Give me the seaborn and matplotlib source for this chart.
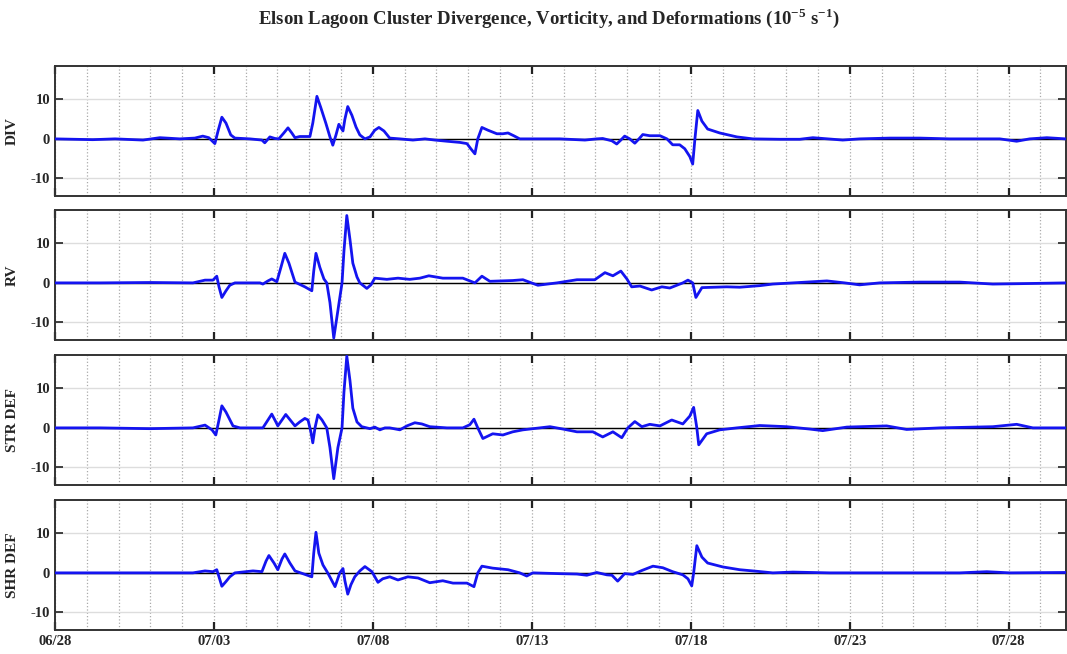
import pandas as pd
import numpy as np
import matplotlib
matplotlib.use("Agg")
import matplotlib.pyplot as plt
import matplotlib.dates as mdates
import seaborn as sns

# time in days after 06/28 00:00, values in 1e-5 s^-1
start = pd.Timestamp("2015-06-28")

div_days = [0, 1.19, 1.89, 2.77, 3.30, 3.93, 4.40, 4.65, 4.84, 5.03, 5.13, 5.25, 5.38, 5.53, 5.66,
            6.13, 6.51, 6.60, 6.76, 6.92, 7.04, 7.20, 7.33, 7.45, 7.55, 7.70, 8.02, 8.11, 8.24, 8.36,
            8.52, 8.65, 8.74, 8.84, 8.93, 9.06, 9.12, 9.21, 9.34, 9.47, 9.59, 9.75, 9.91, 10.06, 10.19,
            10.35, 10.53, 10.85, 11.26, 11.64, 11.95, 12.33, 12.74, 12.96, 13.08, 13.21, 13.30, 13.43,
            13.62, 13.90, 14.09, 14.25, 14.43, 14.62, 15.25, 15.88, 16.67, 17.04, 17.23, 17.52, 17.67,
            17.80, 17.92, 18.08, 18.24, 18.37, 18.49, 18.71, 19.03, 19.25, 19.43, 19.65, 19.81, 19.97,
            20.06, 20.13, 20.22, 20.35, 20.53, 20.91, 21.45, 21.95, 22.80, 23.43, 23.84, 24.78, 25.31,
            26.26, 27.20, 28.14, 29.72, 30.25, 30.66, 31.20, 31.79]
div_vals = [0, -0.2, 0, -0.3, 0.3, 0, 0.2, 0.7, 0.3, -1.2, 2, 5.5, 4, 1, 0.2,
            0, -0.3, -1.0, 0.5, 0.1, 0, 1.5, 2.8, 1.5, 0.3, 0.6, 0.6, 4, 10.8, 8,
            4, 0.5, -1.6, 1, 3.7, 2, 5, 8.2, 6, 3, 1, 0, 0.5, 2.2, 2.9,
            2, 0.2, 0, -0.3, 0, -0.3, -0.6, -0.9, -1.2, -2.5, -3.8, 0, 2.9,
            2.2, 1.3, 1.3, 1.5, 0.8, 0, 0, 0, -0.3, 0, 0.1, -0.5, -1.3,
            -0.3, 0.7, 0, -1.1, 0, 1.1, 0.8, 0.8, 0, -1.5, -1.5, -2.5, -4.5,
            -6.4, 0, 7.2, 4.5, 2.5, 1.5, 0.5, 0, -0.1, -0.1, 0.3, -0.3, 0,
            0.2, 0.2, 0, 0, -0.6, 0, 0.3, 0]

rv_days = [0, 1.42, 2.99, 4.34, 4.72, 4.97, 5.09, 5.16, 5.25, 5.38, 5.50, 5.66, 6.45, 6.54, 6.70,
           6.82, 6.98, 7.11, 7.23, 7.36, 7.55, 7.86, 8.08, 8.14, 8.21, 8.33, 8.46, 8.55, 8.65, 8.77,
           8.90, 9.03, 9.09, 9.18, 9.28, 9.37, 9.50, 9.59, 9.81, 9.94, 10.06, 10.44, 10.79, 11.16,
           11.48, 11.76, 12.20, 12.83, 13.21, 13.43, 13.68, 14.40, 14.72, 15.19, 15.79, 16.42, 16.98,
           17.30, 17.55, 17.80, 17.99, 18.14, 18.40, 18.77, 19.09, 19.34, 19.75, 19.91, 20.06, 20.16,
           20.35, 21.13, 21.54, 22.17, 22.58, 23.21, 24.28, 24.84, 25.31, 25.94, 27.20, 28.46, 29.50,
           30.35, 31.79]
rv_vals = [0, 0, 0.1, 0, 0.7, 0.7, 1.7, -1, -3.7, -2, -0.6, 0, 0, -0.3, 0.5,
           1, 0.3, 4, 7.5, 5, 0.2, -1.0, -2, 3, 7.5, 4, 1, 0, -5, -14,
           -7, 0, 8, 17.1, 11, 5, 1.5, 0, -1.4, -0.5, 1.2, 0.9, 1.2, 0.9,
           1.2, 1.8, 1.2, 1.2, 0, 1.7, 0.4, 0.6, 0.8, -0.6, 0, 0.8, 0.8,
           2.6, 1.8, 3.0, 1.0, -1.0, -0.8, -1.8, -1, -1.3, 0, 0.7, 0, -3.7,
           -1.2, -1, -1.1, -0.7, -0.3, 0, 0.5, 0, -0.5, 0, 0.2, 0.2, -0.3,
           -0.2, 0]

str_days = [0, 1.42, 2.99, 4.34, 4.72, 4.94, 5.06, 5.16, 5.25, 5.38, 5.60, 5.82, 6.54, 6.70, 6.82,
            6.95, 7.01, 7.14, 7.26, 7.42, 7.55, 7.70, 7.86, 7.96, 8.05, 8.11, 8.18, 8.27, 8.40, 8.55,
            8.65, 8.77, 8.90, 9.03, 9.09, 9.18, 9.28, 9.37, 9.50, 9.65, 9.91, 10.06, 10.22, 10.38,
            10.53, 10.85, 11.07, 11.32, 11.54, 11.79, 12.33, 12.83, 13.05, 13.18, 13.30, 13.46, 13.77,
            14.09, 14.40, 14.72, 15.25, 15.57, 15.98, 16.42, 16.92, 17.23, 17.55, 17.83, 18.02, 18.24,
            18.46, 18.71, 19.03, 19.40, 19.75, 19.97, 20.09, 20.19, 20.25, 20.50, 20.91, 21.45, 22.17,
            23.02, 23.74, 24.15, 24.91, 26.16, 26.79, 27.83, 29.50, 30.25, 30.76, 31.79]
str_vals = [0, 0, -0.2, 0, 0.7, -0.5, -1.8, 2, 5.6, 4, 0.5, 0, 0, 2, 3.5,
            1.5, 0.5, 2, 3.4, 1.8, 0.5, 1.5, 2.4, 2, -1, -3.8, 0, 3.3, 2, 0,
            -5, -12.9, -5, 0, 9, 18.2, 12, 5, 1.5, 0.3, -0.2, 0.2, -0.5, 0,
            0, -0.5, 0.5, 1.3, 1, 0.3, 0, 0, 0.8, 2.2, 0, -2.7, -1.5,
            -1.8, -1, -0.5, 0, 0.3, -0.3, -1.0, -1.0, -2.3, -1, -2.5, 0, 1.6,
            0.3, 0.9, 0.5, 2.0, 1, 3, 5.2, 0, -4.3, -1.5, -0.5, 0, 0.6,
            0.3, -0.3, -0.7, 0.2, 0.5, -0.4, 0, 0.3, 0.9, 0, 0]

shr_days = [0, 1.42, 2.99, 4.34, 4.72, 4.97, 5.09, 5.16, 5.25, 5.38, 5.50, 5.66, 6.23, 6.51, 6.64,
            6.73, 6.89, 7.01, 7.14, 7.23, 7.39, 7.55, 8.08, 8.14, 8.21, 8.30, 8.43, 8.58, 8.81, 8.96,
            9.06, 9.12, 9.21, 9.31, 9.43, 9.59, 9.75, 9.97, 10.16, 10.31, 10.53, 10.79, 11.10, 11.42,
            11.79, 12.20, 12.52, 12.96, 13.18, 13.30, 13.43, 13.77, 14.25, 14.62, 14.84, 15.03, 15.88,
            16.42, 16.73, 17.04, 17.36, 17.52, 17.70, 17.92, 18.18, 18.46, 18.81, 19.12, 19.43, 19.75,
            19.91, 20.03, 20.09, 20.19, 20.35, 20.53, 21.01, 21.54, 22.08, 22.58, 23.21, 24.37, 26.57,
            28.46, 29.31, 30.03, 31.79]
shr_vals = [0, 0, 0, 0, 0.5, 0.3, 0.8, -1, -3.4, -2.2, -1, 0, 0.5, 0.3, 3,
            4.4, 2.5, 0.8, 3.5, 4.8, 2.5, 0.5, -1.0, 5, 10.3, 5, 2, 0, -3.5, 0,
            1.1, -2, -5.4, -3, -1, 0.5, 1.6, 0.3, -2.4, -1.5, -1, -1.8, -1, -1.3,
            -2.5, -2, -2.6, -2.6, -3.5, 0, 1.7, 1.2, 0.8, 0, -0.8, 0, -0.2,
            -0.3, -0.6, 0.1, -0.5, -0.6, -2.1, -0.2, -0.4, 0.6, 1.7, 1.3, 0.3, -0.5,
            -1.5, -3.3, 0, 6.9, 4, 2.5, 1.5, 0.8, 0.4, 0, 0.2, 0, 0,
            0, 0.3, 0, 0.1]

panel_labels = ["DIV", "RV", "STR DEF", "SHR DEF"]
series = [(div_days, div_vals), (rv_days, rv_vals), (str_days, str_vals), (shr_days, shr_vals)]
title = "Elson Lagoon Cluster Divergence, Vorticity, and Deformations (10$^{\\mathbf{-5}}$ s$^{\\mathbf{-1}}$)"

sns.set_theme(style="white")
plt.rcParams["font.family"] = ["Liberation Serif", "DejaVu Serif"]
plt.rcParams["font.weight"] = "bold"
plt.rcParams["axes.unicode_minus"] = False
plt.rcParams["mathtext.fontset"] = "custom"
plt.rcParams["mathtext.rm"] = "Liberation Serif:bold"
plt.rcParams["mathtext.bf"] = "Liberation Serif:bold"

fig = plt.figure(figsize=(10.67, 6.54), dpi=100)
bottoms = [0.7003, 0.4801, 0.2584, 0.0367]
xmin = start
xmax = start + pd.Timedelta(days=31.8)

for i, (lab, (d, v)) in enumerate(zip(panel_labels, series)):
    ax = fig.add_axes([0.0515, bottoms[i], 0.9475, 0.1988])
    df = pd.DataFrame({"time": start + pd.to_timedelta(d, unit="D"), "value": v})
    ax.axhline(0, color="black", lw=1.0, zorder=1)
    sns.lineplot(data=df, x="time", y="value", ax=ax, color="#1414f0", lw=2.0, zorder=3)
    ax.set_xlim(xmin, xmax)
    ax.set_ylim(-14.5, 18.5)
    ax.set_yticks([-10, 0, 10])
    ax.xaxis.set_major_locator(mdates.DayLocator(bymonthday=[3, 8, 13, 18, 23, 28]))
    ax.xaxis.set_minor_locator(mdates.DayLocator())
    ax.xaxis.set_major_formatter(mdates.DateFormatter("%m/%d"))
    ax.grid(which="minor", axis="x", color="#aaaaaa", ls=":", lw=0.9)
    ax.grid(which="major", axis="x", color="#aaaaaa", ls=":", lw=0.9)
    ax.grid(which="major", axis="y", color="#dddddd", ls="-", lw=1.0)
    ax.tick_params(axis="x", which="major", direction="in", length=6, width=1.6,
                   top=True, bottom=True, color="#222222", labelsize=10.5)
    ax.tick_params(axis="x", which="minor", length=0)
    ax.tick_params(axis="y", direction="in", length=6, width=1.2, left=True, right=True,
                   color="#222222", labelsize=10.5)
    for s in ax.spines.values():
        s.set_color("#333333")
        s.set_linewidth(1.4)
    ax.set_xlabel("")
    ax.set_ylabel(lab, fontsize=11, fontweight="bold", labelpad=4)
    ax.yaxis.set_label_coords(-0.036, 0.5)
    if i < 3:
        ax.set_xticklabels([])

fig.text(0.514, 0.972, title, ha="center", va="center", fontsize=13.5, fontweight="bold")
fig.savefig("out.png", dpi=100)
